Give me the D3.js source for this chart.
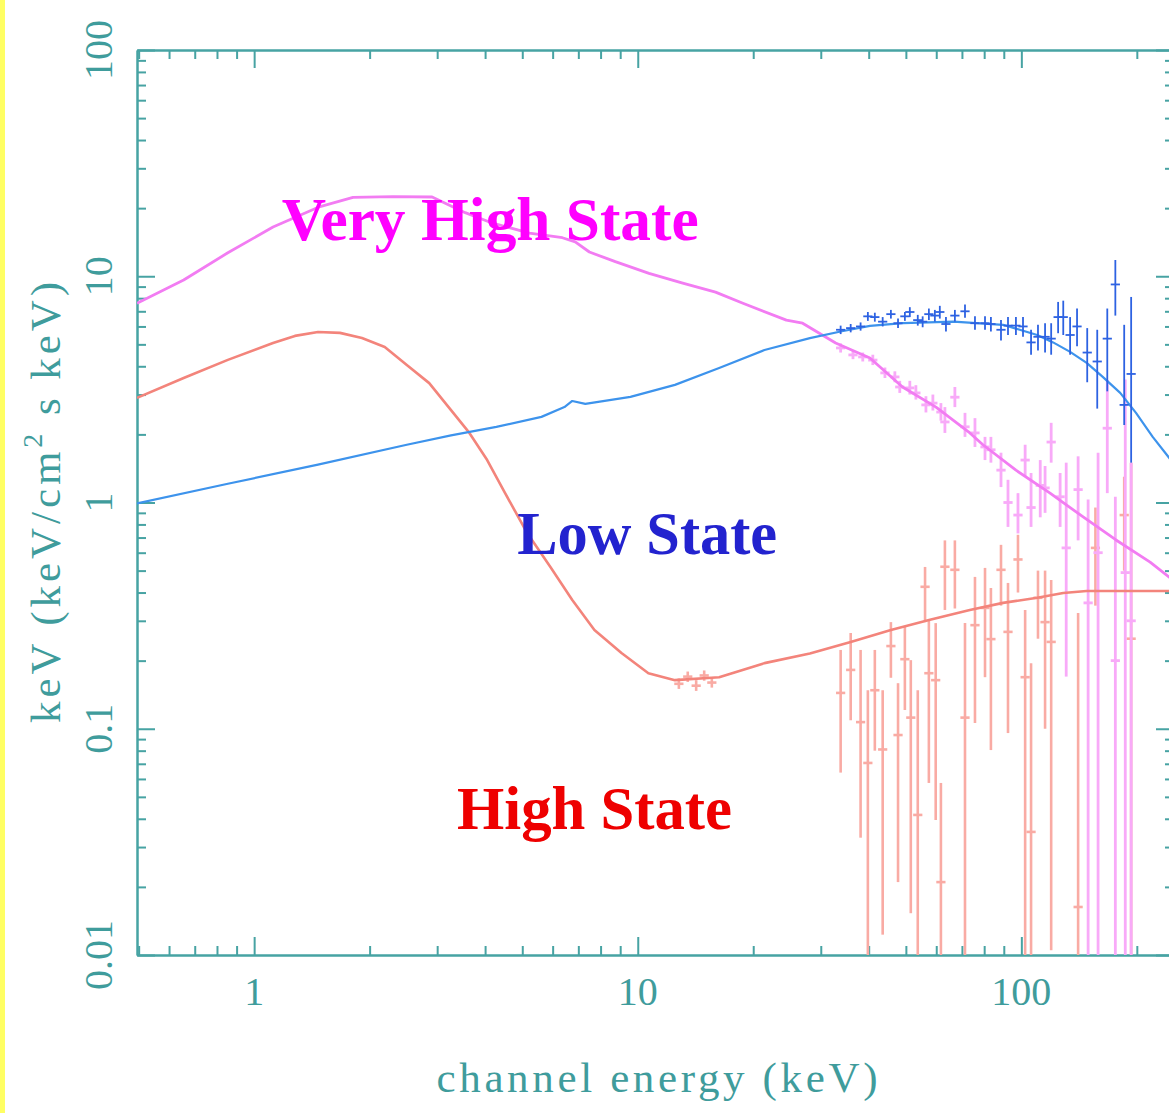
<!DOCTYPE html>
<html>
<head>
<meta charset="utf-8">
<script src="https://cdn.jsdelivr.net/npm/d3@7"></script>
<style>
  body { margin: 0; background: #fff; }
  svg { display: block; }
  .frame path, .frame line { stroke: #47a3a3; stroke-width: 2px; }
  .ticklabel, .title { font-family: "Liberation Serif", serif; fill: #3f9c9c; }
  .ticklabel { font-size: 40px; }
  .title { font-size: 43px; }
  .state { font-family: "Liberation Serif", "Times New Roman", serif; font-weight: bold; font-size: 61px; }
</style>
</head>
<body>
<script>
// model spectra, [channel energy keV, keV/cm2 s keV]
const veryHighModel = [
  [0.495, 7.6], [0.655, 9.62], [0.854, 12.7], [1.12, 16.5], [1.47, 20.2], [1.81, 22.3],
  [2.3, 22.5], [2.91, 22.4], [3.55, 19.1], [4.17, 17.2], [5.22, 15.5], [6.36, 14.8],
  [6.87, 14.2], [7.48, 12.8], [8.74, 11.6], [10.7, 10.3], [13.1, 9.33], [15.95, 8.51],
  [18.8, 7.6], [24.4, 6.4], [26.9, 6.2], [32.8, 5.07], [40.3, 4.35], [49, 3.24],
  [59.9, 2.64], [73.4, 2.03], [79.4, 1.8], [96.8, 1.39], [118.8, 1.1], [144.9, 0.863],
  [176.5, 0.683], [216.6, 0.545], [250, 0.45]
]
const highModel = [
  [0.495, 2.9], [0.655, 3.55], [0.854, 4.27], [1.12, 5.07], [1.277, 5.45], [1.467, 5.67],
  [1.674, 5.62], [1.91, 5.33], [2.19, 4.87], [2.5, 4.05], [2.86, 3.37], [3.26, 2.56],
  [3.64, 2.03], [4.05, 1.54], [4.51, 1.1], [5.15, 0.733], [5.92, 0.519], [6.75, 0.371],
  [7.71, 0.273], [9.07, 0.216], [10.66, 0.176], [12.5, 0.164], [16.3, 0.169], [21.4, 0.195],
  [28.1, 0.215], [35.9, 0.242], [45.7, 0.273], [57.8, 0.303], [73.4, 0.335], [89.6, 0.36],
  [110, 0.379], [128.6, 0.398], [148, 0.406], [250, 0.406]
]
const lowModel = [
  [0.495, 0.99], [0.854, 1.21], [1.467, 1.47], [2.5, 1.8], [3.26, 1.98], [4.28, 2.16],
  [5.61, 2.39], [6.44, 2.64], [6.75, 2.81], [7.3, 2.73], [9.57, 2.93], [12.5, 3.31],
  [16.3, 3.93], [21.4, 4.72], [28.1, 5.33], [33.8, 5.7], [40.3, 6.03], [49.1, 6.2],
  [66.6, 6.3], [89.6, 6.1], [110, 5.5], [121, 5.1], [134, 4.63], [148, 4.14], [163, 3.59],
  [181, 3.05], [199, 2.49], [220, 1.95], [250, 1.48]
]

// data points, [energy, flux, flux low, flux high]
const veryHighData = [
  [33.8, 4.82, 4.6, 5.05], [36.4, 4.49, 4.3, 4.7], [38.6, 4.4, 4.2, 4.6], [41, 4.26, 4.05, 4.5],
  [44.1, 3.74, 3.55, 3.95], [46.8, 3.59, 3.4, 3.8], [48.2, 3.24, 3.05, 3.45], [51.2, 3.21, 3.0, 3.45],
  [53.1, 3.05, 2.85, 3.3], [56.4, 2.7, 2.5, 2.95], [58.8, 2.75, 2.55, 3.0], [61.7, 2.51, 2.3, 2.75],
  [63.2, 2.27, 2.03, 2.64], [67.1, 2.92, 2.64, 3.24], [71.3, 2.16, 1.95, 2.49], [75.7, 2.03, 1.76, 2.36],
  [80.4, 1.76, 1.54, 1.95], [83.3, 1.71, 1.5, 1.95], [88.5, 1.39, 1.17, 1.66], [92.3, 1.0, 0.78, 1.26],
  [98, 0.88, 0.73, 1.1], [102.3, 1.54, 1.3, 1.8], [106, 0.95, 0.78, 1.35], [112, 1.19, 0.86, 1.54],
  [115.3, 1.16, 0.9, 1.45], [119.6, 1.85, 1.5, 2.25], [126.2, 1.06, 0.78, 1.35], [130.9, 0.63, 0.17, 1.5],
  [140.6, 1.14, 0.68, 1.6], [149.3, 0.36, 0.005, 1.03], [158.5, 0.6, 0.005, 1.66], [167.5, 2.13, 1.1, 3.48],
  [175.8, 0.2, 0.005, 1.06], [186.6, 0.49, 0.005, 3.5], [193.3, 0.3, 0.005, 1.5]
]
const highData = [
  [12.8, 0.158, 0.15, 0.167], [13.5, 0.17, 0.161, 0.179], [14.2, 0.155, 0.147, 0.164],
  [14.9, 0.172, 0.163, 0.181], [15.6, 0.16, 0.152, 0.169],
  [33.8, 0.144, 0.064, 0.223], [35.9, 0.182, 0.109, 0.265], [38.1, 0.107, 0.033, 0.223],
  [39.8, 0.0706, 0.005, 0.148], [41.5, 0.148, 0.08, 0.223], [43.5, 0.081, 0.0123, 0.148],
  [45.7, 0.232, 0.168, 0.296], [47.7, 0.0938, 0.021, 0.159], [49.7, 0.203, 0.121, 0.282],
  [51.5, 0.112, 0.0153, 0.201], [53.7, 0.0416, 0.005, 0.148], [56.1, 0.424, 0.296, 0.519],
  [57.4, 0.176, 0.0576, 0.303], [59.8, 0.164, 0.0395, 0.293], [61.7, 0.021, 0.005, 0.0576],
  [63.2, 0.52, 0.335, 0.68], [67.1, 0.504, 0.34, 0.68], [71.3, 0.112, 0.005, 0.293],
  [75.7, 0.287, 0.106, 0.469], [80.4, 0.342, 0.169, 0.514], [83.3, 0.249, 0.0805, 0.419],
  [88.5, 0.504, 0.35, 0.65], [92.3, 0.268, 0.0957, 0.441], [98, 0.56, 0.4, 0.72],
  [102.3, 0.169, 0.005, 0.335], [106, 0.035, 0.005, 0.195], [110.5, 0.379, 0.25, 0.5],
  [115.3, 0.296, 0.1, 0.5], [119.6, 0.242, 0.0105, 0.454], [140.6, 0.0163, 0.005, 0.325],
  [156, 0.63, 0.35, 0.95], [185.4, 0.88, 0.5, 1.3], [193.3, 0.25, 0.005, 1.5]
]
const lowData = [
  [33.8, 5.8, 5.55, 6.05], [35.9, 5.9, 5.65, 6.15], [38.1, 6.0, 5.75, 6.25], [39.8, 6.65, 6.35, 6.95],
  [41.5, 6.6, 6.3, 6.9], [43.5, 6.3, 6.0, 6.6], [45.7, 6.8, 6.5, 7.1], [47.7, 6.2, 5.9, 6.5],
  [49.7, 6.65, 6.35, 6.95], [51.2, 6.95, 6.6, 7.3], [53.7, 6.4, 6.05, 6.75], [55.3, 6.3, 5.95, 6.65],
  [57.4, 6.8, 6.4, 7.2], [59.5, 6.7, 6.3, 7.1], [61.3, 6.95, 6.5, 7.4], [63.6, 6.15, 5.7, 6.6],
  [67.1, 6.7, 6.3, 7.1], [71.3, 7.0, 6.55, 7.5], [75.7, 6.2, 5.8, 6.65], [80.4, 6.2, 5.8, 6.65],
  [83.3, 6.15, 5.7, 6.6], [88.5, 5.8, 5.2, 6.4], [92.3, 6.05, 5.5, 6.6], [96.8, 6.05, 5.5, 6.6],
  [101, 6.0, 5.4, 6.6], [106, 5.1, 4.5, 5.8], [110.5, 5.4, 4.7, 6.1], [115.3, 5.4, 4.6, 6.2],
  [119.6, 5.3, 4.5, 6.2], [124.7, 6.6, 5.6, 7.7], [128.6, 6.6, 5.5, 7.8], [134, 5.5, 4.5, 6.6],
  [139.7, 6.0, 4.9, 7.2], [148.5, 4.6, 3.4, 5.9], [157.7, 4.2, 2.6, 5.8], [167.5, 5.3, 3.1, 7.2],
  [175.8, 9.2, 6.7, 11.8], [185.4, 2.7, 2.2, 6.1], [193.3, 3.7, 1.5, 8.1]
]

const xTickLabels = [1, 10, 100]
const yTickLabels = [0.01, 0.1, 1, 10, 100]
const xTitle = 'channel energy (keV)'
const yTitle = ['keV (keV/cm', '2', ' s keV)']

// state names and where they sit, [energy, flux] of the baseline start
const stateNames = ['Very High State', 'Low State', 'High State']
const stateAnchors = [[1.18, 14.5], [4.85, 0.59], [3.38, 0.036]]

const W = 1169
const H = 1113
const COLORS = {
  veryHigh: { line: '#f27cf2', data: '#f8aaf8', label: '#ff00ff' },
  high: { line: '#f3847b', data: '#f9aba4', label: '#ee0000' },
  low: { line: '#3d93ec', data: '#2d62e2', label: '#2323cf' },
}

const x = d3.scaleLog().domain([0.495, 250]).range([137, 1174])
const y = d3.scaleLog().domain([0.01, 100]).range([955, 50])

const svg = d3.select('body').append('svg')
  .attr('width', W)
  .attr('height', H)

// yellow strip on the left edge
svg.append('rect')
  .attr('x', 0).attr('y', 0)
  .attr('width', 5).attr('height', H)
  .attr('fill', '#ffff63')

svg.append('clipPath').attr('id', 'plot')
  .append('rect')
    .attr('x', x.range()[0]).attr('y', y.range()[1])
    .attr('width', x.range()[1] - x.range()[0])
    .attr('height', y.range()[0] - y.range()[1])

drawFrame()

const plot = svg.append('g').attr('clip-path', 'url(#plot)')

const line = d3.line()
  .x(function(d) { return x(d[0]) })
  .y(function(d) { return y(d[1]) })

drawData(highData, COLORS.high.data, 2.6)
drawData(veryHighData, COLORS.veryHigh.data, 2.8)

drawModel(highModel, COLORS.high.line, 2.6)
drawModel(veryHighModel, COLORS.veryHigh.line, 2.8)
drawModel(lowModel, COLORS.low.line, 2.2)

drawData(lowData, COLORS.low.data, 1.8)

drawLabels()

function drawModel(points, color, width) {
  plot.append('path')
    .datum(points)
    .attr('fill', 'none')
    .attr('stroke', color)
    .attr('stroke-width', width)
    .attr('stroke-linejoin', 'round')
    .attr('d', line)
}

function drawData(points, color, width) {
  const halfBin = 0.012 // half bin width in dex
  const g = plot.append('g')
    .attr('stroke', color)
    .attr('stroke-width', width)

  g.selectAll('line.err')
    .data(points)
    .enter().append('line')
      .attr('class', 'err')
      .attr('x1', function(d) { return x(d[0]) })
      .attr('x2', function(d) { return x(d[0]) })
      .attr('y1', function(d) { return y(d[2]) })
      .attr('y2', function(d) { return y(d[3]) })

  g.selectAll('line.bin')
    .data(points)
    .enter().append('line')
      .attr('class', 'bin')
      .attr('x1', function(d) { return x(d[0] * Math.pow(10, -halfBin)) })
      .attr('x2', function(d) { return x(d[0] * Math.pow(10, halfBin)) })
      .attr('y1', function(d) { return y(d[1]) })
      .attr('y2', function(d) { return y(d[1]) })
}

function drawFrame() {
  const isMajor = function(v) { return Math.abs(Math.log10(v) - Math.round(Math.log10(v))) < 1e-6 }
  const inside = function(scale) {
    const dom = scale.domain()
    return scale.ticks().filter(function(v) { return v > dom[0] * 1.01 && v <= dom[1] })
  }
  const xMinor = inside(x).filter(function(v) { return !isMajor(v) })
  const xMajor = inside(x).filter(isMajor)
  const yMinor = inside(y).filter(function(v) { return !isMajor(v) })
  const yMajor = y.ticks().filter(isMajor)

  const [x0, x1] = x.range()
  const [y0, y1] = y.range()

  const axes = [
    [d3.axisBottom(x), 'translate(0,' + y0 + ')', xMinor, xMajor],
    [d3.axisTop(x), 'translate(0,' + y1 + ')', xMinor, xMajor],
    [d3.axisLeft(y), 'translate(' + x0 + ',0)', yMinor, yMajor],
    [d3.axisRight(y), 'translate(' + x1 + ',0)', yMinor, yMajor],
  ]
  axes.forEach(function(a) {
    svg.append('g').attr('class', 'frame').attr('transform', a[1])
      .call(a[0].tickValues(a[2]).tickSize(-9).tickSizeOuter(0).tickFormat(''))
    svg.append('g').attr('class', 'frame').attr('transform', a[1])
      .call(a[0].tickValues(a[3]).tickSize(-18).tickSizeOuter(0).tickFormat(''))
  })
  svg.selectAll('.frame .domain').attr('fill', 'none')

  // tick labels
  svg.append('g').selectAll('text')
    .data(xTickLabels)
    .enter().append('text')
      .attr('class', 'ticklabel')
      .attr('x', function(d) { return x(d) })
      .attr('y', 1005)
      .attr('text-anchor', 'middle')
      .text(function(d) { return d })

  svg.append('g').selectAll('text')
    .data(yTickLabels)
    .enter().append('text')
      .attr('class', 'ticklabel')
      .attr('transform', function(d) { return 'translate(112,' + y(d) + ') rotate(-90)' })
      .attr('text-anchor', 'middle')
      .text(function(d) { return d })

  // axis titles
  svg.append('text')
    .attr('class', 'title')
    .attr('x', 657)
    .attr('y', 1092)
    .attr('text-anchor', 'middle')
    .attr('textLength', 441)
    .attr('lengthAdjust', 'spacing')
    .text(xTitle)

  const yt = svg.append('text')
    .attr('class', 'title')
    .attr('transform', 'translate(60,' + ((y0 + y1) / 2) + ') rotate(-90)')
    .attr('text-anchor', 'middle')
    .attr('textLength', 441)
    .attr('lengthAdjust', 'spacing')
  yt.append('tspan').text(yTitle[0])
  yt.append('tspan').attr('dy', -18).attr('font-size', 28).text(yTitle[1])
  yt.append('tspan').attr('dy', 18).text(yTitle[2])
}

function drawLabels() {
  const colors = [COLORS.veryHigh.label, COLORS.low.label, COLORS.high.label]
  const widths = [417, 260, 275]
  svg.append('g').selectAll('text')
    .data(stateNames)
    .enter().append('text')
      .attr('class', 'state')
      .attr('x', function(d, i) { return x(stateAnchors[i][0]) })
      .attr('y', function(d, i) { return y(stateAnchors[i][1]) })
      .attr('textLength', function(d, i) { return widths[i] })
      .attr('lengthAdjust', 'spacingAndGlyphs')
      .attr('fill', function(d, i) { return colors[i] })
      .text(function(d) { return d })
}
</script>
</body>
</html>
